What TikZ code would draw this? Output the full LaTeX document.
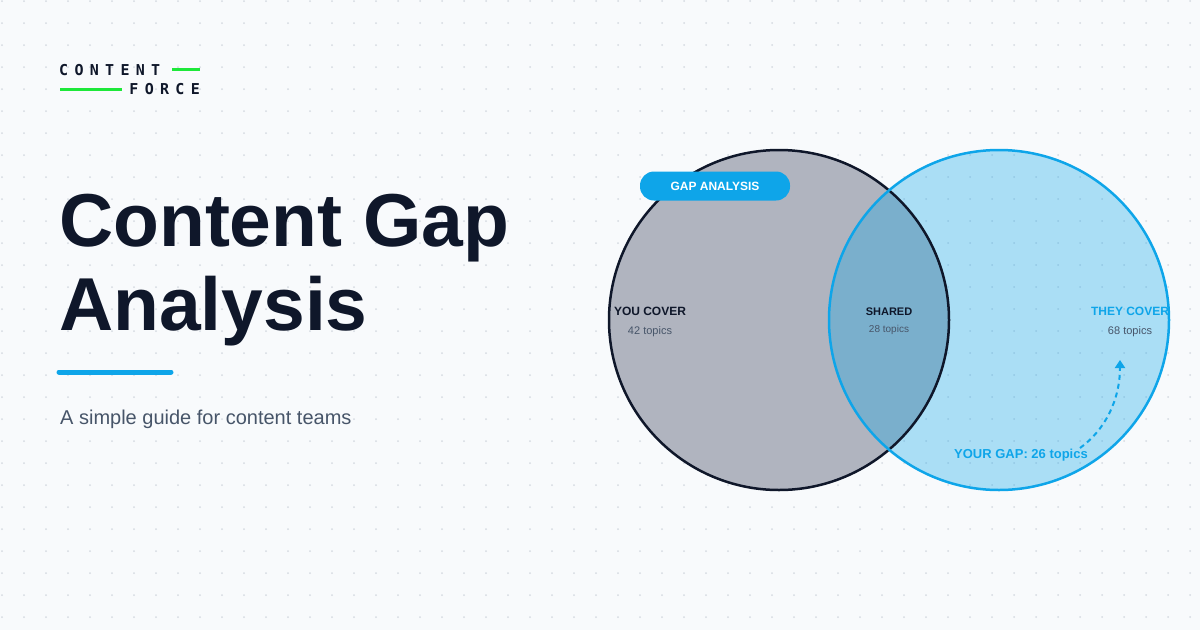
\documentclass[tikz,border=0pt]{standalone}
\usepackage{fontspec}
\setmainfont{Liberation Sans}
\newfontfamily\logofont[LetterSpace=42]{DejaVu Sans Mono}
\usetikzlibrary{arrows.meta}
\definecolor{bg}{HTML}{F8FAFC}
\definecolor{ink}{HTML}{0F172A}
\definecolor{sky}{HTML}{0EA5E9}
\definecolor{slate}{HTML}{475569}
\definecolor{gry}{HTML}{B0B4BF}
\definecolor{lime}{HTML}{1EE83A}
\definecolor{dotc}{HTML}{D5DAE1}
\begin{document}
\begin{tikzpicture}[x=1pt,y=-1pt,
  lbl/.style={font=\bfseries\fontsize{12}{14}\selectfont,text=ink},
  sub/.style={font=\fontsize{11}{13}\selectfont,text=slate},
  logo/.style={inner sep=0,font=\logofont\bfseries\fontsize{15}{15}\selectfont,text=ink}]
\fill[bg] (0,0) rectangle (1200,630);
\useasboundingbox (0,0) rectangle (1200,630);
\foreach \i in {0,...,54}{\foreach \j in {0,...,28}{
  \fill[dotc] (2+22*\i,1+22*\j) circle (1);}}
% logo
\node[logo,anchor=base west] (l1) at (59,75) {CONTENT};
\node[logo,anchor=base east] (l2) at (200,94.5) {FORCE};
\draw[lime,line width=2.2] (172,69.5) -- (200,69.5);
\draw[lime,line width=2.2] (60,89.5) -- (122,89.5);
% title
\node[anchor=base west,inner sep=0,font=\bfseries\fontsize{75}{80}\selectfont,text=ink] (t1) at (59,246) {Content Gap};
\node[anchor=base west,inner sep=0,font=\bfseries\fontsize{75}{80}\selectfont,text=ink] (t2) at (59,330) {Analysis};
\draw[sky,line width=5,line cap=round] (59,372) -- (171,372);
\node[anchor=base west,inner sep=0,font=\fontsize{20}{22}\selectfont,text=slate] (st) at (60,424) {A simple guide for content teams};
% venn
\fill[gry] (779,320) circle (170);
\fill[sky,opacity=0.33] (999,320) circle (170);
\draw[ink,line width=2.5] (779,320) circle (170);
\draw[sky,line width=2.5] (999,320) circle (170);
% pill
\node[fill=sky,rounded corners=14,minimum width=150,minimum height=29,text=white,font=\bfseries\fontsize{12}{14}\selectfont] (pill) at (715,186) {GAP ANALYSIS};
% labels
\node[lbl] (yc) at (650,311) {YOU COVER};
\node[sub] (yn) at (650,332) {42 topics};
\node[lbl,font=\bfseries\fontsize{11}{13}\selectfont] (sh) at (889,312) {SHARED};
\node[sub,font=\fontsize{10}{12}\selectfont] (sn) at (889,330) {28 topics};
\node[lbl,text=sky] (tc) at (1130,311) {THEY COVER};
\node[sub] (tn) at (1130,332) {68 topics};
\node[lbl,text=sky,font=\bfseries\fontsize{13}{15}\selectfont] (gap) at (1021,455) {YOUR GAP: 26 topics};
\coordinate (gs) at (1080,448);
\coordinate (ge) at (1120,360);
\draw[sky,line width=2,dash pattern=on 5 off 4,-{Triangle[length=8,width=10]}] (gs) .. controls (1105,430) and (1120,400) .. (ge);
\end{tikzpicture}
\end{document}
